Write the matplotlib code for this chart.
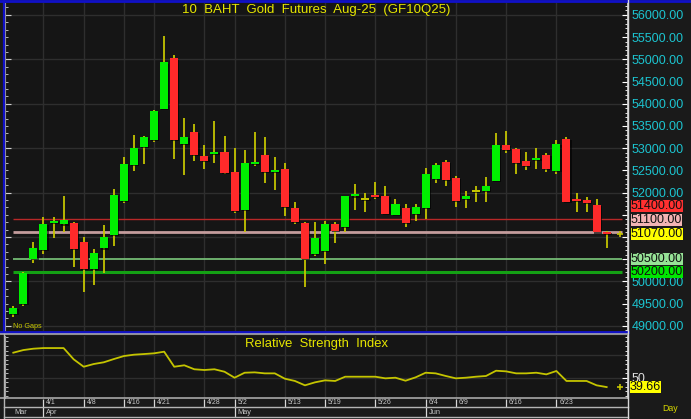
import matplotlib
matplotlib.use("Agg")
import matplotlib.pyplot as plt
from matplotlib.lines import Line2D
from matplotlib.ticker import MultipleLocator, FixedLocator, FuncFormatter, NullFormatter
import numpy as np

plt.rcParams['font.family'] = ['Liberation Sans', 'DejaVu Sans']

# trading days (Mar 27 - Jun 30, 2025)
dates = ["3/27", "3/28", "3/31", "4/1", "4/2", "4/3", "4/4", "4/8", "4/9", "4/10",
         "4/11", "4/16", "4/17", "4/18", "4/21", "4/22", "4/23", "4/24", "4/25", "4/28",
         "4/29", "4/30", "5/2", "5/6", "5/7", "5/8", "5/9", "5/13", "5/14", "5/15",
         "5/16", "5/19", "5/20", "5/21", "5/22", "5/23", "5/26", "5/27", "5/28", "5/29",
         "5/30", "6/4", "6/5", "6/6", "6/9", "6/10", "6/11", "6/12", "6/13", "6/16",
         "6/17", "6/18", "6/19", "6/20", "6/23", "6/24", "6/25", "6/26", "6/27", "6/30"]

opens = [49260, 49500, 50500, 50700, 51320, 51280, 51310, 50890, 50280, 50740,
         51040, 51810, 52620, 53030, 53180, 53880, 55020, 53100, 53370, 52830,
         52880, 52910, 52460, 51610, 52650, 52840, 52480, 52540, 51660, 51320,
         50610, 50680, 51290, 51220, 51925, 51850, 51930, 51930, 51490, 51660,
         51520, 51650, 52300, 52690, 52330, 51850, 52040, 52030, 52270, 53080,
         52980, 52720, 52750, 52840, 52490, 53200, 51840, 51830, 51710, 51090]
highs = [49440, 50200, 50890, 51450, 51450, 51920, 51330, 51000, 50720, 51260,
         52080, 52790, 53300, 53270, 53860, 55530, 55100, 53670, 53540, 53070,
         53600, 53270, 53000, 52960, 53370, 53260, 52790, 52660, 51790, 51340,
         51340, 51360, 51330, 51920, 52190, 52000, 52240, 52150, 51850, 51740,
         51740, 52550, 52660, 52730, 52370, 52040, 52150, 52350, 53330, 53380,
         53000, 52910, 53000, 52880, 53180, 53260, 52000, 51890, 51850, 51130]
lows = [49200, 49440, 50420, 50620, 50980, 51120, 50330, 49770, 49910, 50190,
        50800, 51770, 52490, 52650, 53140, 53870, 52760, 52390, 52720, 52520,
        52670, 52420, 51530, 51100, 52600, 52220, 52060, 51470, 51290, 49880,
        50580, 50380, 50860, 51100, 51610, 51560, 51850, 51510, 51490, 51220,
        51350, 51400, 52220, 52150, 51680, 51650, 51790, 51790, 52270, 52880,
        52420, 52500, 52540, 52460, 52420, 51790, 51570, 51560, 51100, 50740]
closes = [49410, 50190, 50740, 51290, 51360, 51380, 50720, 50270, 50640, 51000,
          51940, 52640, 53010, 53250, 53840, 54930, 53180, 53260, 52850, 52710,
          52920, 52450, 51590, 52660, 52690, 52470, 52490, 51680, 51340, 50500,
          50980, 51300, 51140, 51915, 51945, 51850, 51910, 51510, 51730, 51310,
          51670, 52420, 52610, 52280, 51810, 51915, 52040, 52150, 53080, 52960,
          52670, 52600, 52775, 52530, 53100, 51790, 51820, 51770, 51100, 51070]

rsi = [77.6, 80.5, 82.0, 82.7, 82.7, 82.7, 70.3, 62.1, 65.1, 67.0,
       70.6, 73.9, 75.4, 76.1, 76.9, 78.7, 62.1, 63.7, 59.3, 58.5,
       59.3, 56.6, 50.0, 55.5, 55.9, 54.8, 54.8, 48.9, 46.4, 41.6,
       44.9, 47.1, 46.4, 51.1, 51.1, 51.1, 51.1, 49.3, 50.0, 46.7,
       50.4, 55.5, 54.8, 51.9, 49.3, 50.0, 51.1, 51.9, 57.7, 57.0,
       54.8, 54.8, 55.5, 53.7, 57.4, 46.4, 46.4, 46.4, 41.6, 39.66]

levels = [51400, 51100, 50500, 50200]
level_line_colors = ['#b82828', '#c49c9c', '#7cc87c', '#14a014']
level_box_colors = ['#ff3030', '#f2b4b4', '#96e296', '#00e600']
level_widths = [1.0, 2.0, 1.2, 2.2]

tick_dates = ["4/1", "4/8", "4/16", "4/21", "4/28", "5/2", "5/13", "5/19",
              "5/26", "6/4", "6/9", "6/16", "6/23"]
months = ["Mar", "Apr", "May", "Jun"]
month_starts = ["3/27", "4/1", "5/2", "6/4"]

W, H = 691, 419
BG = '#1a1a1a'
PANEL = '#151515'
GRID = '#2e2e2e'
WICK = '#c4c400'
TICKLBL = '#1cc4d0'
FS = 9.0

fig = plt.figure(figsize=(W / 100, H / 100), dpi=100, facecolor=BG)


def box(l, t, r, b):
    return [l / W, 1 - b / H, (r - l) / W, (b - t) / H]


x = np.arange(len(dates))
xlim = (-0.776, 61.07)
n = len(dates)

# right-hand price boxes, stacked upward so they don't overlap
label_vals = sorted(levels + [closes[-1]])
box_for = dict(zip(levels, level_box_colors))
box_for[closes[-1]] = '#ffff00'
gap = 310
label_pos = []
prev = -1e9
for v in label_vals:
    prev = max(v, prev + gap)
    label_pos.append(prev)


def price_fmt(v, p):
    # tick labels that would sit under a price box are not shown
    if any(abs(v - q) < 150 for q in label_pos):
        return ""
    return f"{v:.2f}"


# ---- price panel ----
ax = fig.add_axes(box(5.5, 3, 627.5, 331), facecolor=PANEL)
ax.set_xlim(*xlim)
ax.set_ylim(48881, 56268)

tick_idx = [dates.index(d) for d in tick_dates]
for i in tick_idx:
    ax.axvline(i, color=GRID, lw=1, zorder=0)
ax.yaxis.set_major_locator(MultipleLocator(500))
ax.yaxis.set_minor_locator(MultipleLocator(100))
for v in np.arange(49000, 56001, 1000):
    ax.axhline(v, color=GRID, lw=1, zorder=0)

o = np.array(opens)
c = np.array(closes)
up = c > o
down = c < o
body_col = np.where(up, '#00f000', np.where(down, '#ff2a2a', WICK))
min_h = 45
body_h = np.maximum(np.abs(c - o), min_h)
body_bot = np.where(np.abs(c - o) < min_h, (o + c) / 2 - min_h / 2, np.minimum(o, c))

ax.vlines(x, lows, highs, colors=WICK, lw=1.3, zorder=2)
ax.bar(x + 0.12, body_h, bottom=body_bot - 25, width=0.8, color='black', alpha=0.6, zorder=2.2)
ax.bar(x, body_h, bottom=body_bot, width=0.8, color=body_col, zorder=3)

for v, lc, lw in zip(levels, level_line_colors, level_widths):
    ax.plot([0, n + 0.55], [v, v], color=lc, lw=lw, zorder=1.5, solid_capstyle='butt')

ax.plot(n + 0.3, closes[-1], marker='+', color=WICK, ms=5, mew=1.2, zorder=4, clip_on=False)

ax.yaxis.tick_right()
ax.yaxis.set_major_formatter(FuncFormatter(price_fmt))
ax.tick_params(axis='y', which='major', direction='in', length=4, width=0.8, color='white',
               labelcolor=TICKLBL, labelsize=FS, pad=3)
ax.tick_params(axis='y', which='minor', direction='in', length=2, width=0.6, color='white')
ax.tick_params(axis='x', bottom=False, labelbottom=False)
for s in ['top', 'left', 'bottom']:
    ax.spines[s].set_visible(False)
ax.spines['right'].set_color('#d8d8d8')
ax.spines['right'].set_linewidth(1.2)

sec = ax.secondary_yaxis('left')
sec.yaxis.set_major_locator(MultipleLocator(1000))
sec.yaxis.set_minor_locator(MultipleLocator(1000 / 6))
sec.yaxis.set_major_formatter(NullFormatter())
sec.tick_params(which='major', direction='in', length=4, width=0.8, color='#d0d0d0')
sec.tick_params(which='minor', direction='in', length=2.5, width=0.6, color='#d0d0d0')
sec.spines['left'].set_color('#9a9a9a')

for v, pos in zip(label_vals, label_pos):
    ax.annotate(f"{v:.2f}", xy=(1, pos), xycoords=('axes fraction', 'data'),
                xytext=(2.2, 0), textcoords='offset points', ha='left', va='center',
                fontsize=FS, color='#101010', annotation_clip=False, zorder=5,
                bbox=dict(boxstyle='square,pad=0.0', fc=box_for[v], ec='none'))

ax.text(0.5, 1 - 7 / 328, "10  BAHT  Gold  Futures  Aug-25  (GF10Q25)",
        transform=ax.transAxes, ha='center', va='center', color='#e6e600', fontsize=9.5)
ax.text(7.5 / 622, 5 / 328, "No Gaps", transform=ax.transAxes, ha='left', va='center',
        color='#c8c800', fontsize=5.2)

# ---- RSI panel ----
rax = fig.add_axes(box(5.5, 336, 627.5, 397.5), facecolor=PANEL)
rax.set_xlim(*xlim)
rax.set_ylim(28.17, 96.0)
for i in tick_idx:
    rax.axvline(i, color=GRID, lw=1, zorder=0)
for v in [50, 75]:
    rax.axhline(v, color=GRID, lw=1, zorder=0)
rax.plot(x, rsi, color=WICK, lw=1.3, zorder=3)
rax.plot(n + 0.3, rsi[-1], marker='+', color=WICK, ms=5, mew=1.2, zorder=4, clip_on=False)

rax.yaxis.tick_right()
rax.yaxis.set_major_locator(FixedLocator([50]))
rax.yaxis.set_minor_locator(MultipleLocator(5))
rax.tick_params(axis='y', which='major', direction='in', length=4, width=0.8, color='white',
                labelcolor='#e0e0e0', labelsize=FS, pad=3)
rax.tick_params(axis='y', which='minor', direction='in', length=2, width=0.6, color='white')
rax.tick_params(axis='x', bottom=False, labelbottom=False)
for s in ['top', 'left', 'bottom']:
    rax.spines[s].set_visible(False)
rax.spines['right'].set_color('#d8d8d8')
rax.spines['right'].set_linewidth(1.2)
rsec = rax.secondary_yaxis('left')
rsec.yaxis.set_major_locator(MultipleLocator(5))
rsec.yaxis.set_major_formatter(NullFormatter())
rsec.tick_params(direction='in', length=2.5, width=0.6, color='#d0d0d0')
rsec.spines['left'].set_color('#9a9a9a')

rax.annotate(f"{rsi[-1]:.2f}", xy=(1, rsi[-1]), xycoords=('axes fraction', 'data'),
             xytext=(1.5, 0), textcoords='offset points', ha='left', va='center',
             fontsize=FS, color='#101010', annotation_clip=False, zorder=5,
             bbox=dict(boxstyle='square,pad=0.0', fc='#ffff00', ec='none'))
rax.text(0.5, 1 - 8 / 61.5, "Relative  Strength  Index", transform=rax.transAxes,
         ha='center', va='center', color='#e6e600', fontsize=9.4)

# ---- date strip ----
dax = fig.add_axes(box(5.5, 398.5, 627.5, 417), facecolor=PANEL)
dax.set_xlim(*xlim)
dax.set_ylim(0, 1)
dax.axis('off')
split = 10 / 18.5
dax.vlines(tick_idx, split, 1, colors='#d8d8d8', lw=0.9)
for i, lbl in zip(tick_idx, tick_dates):
    dax.annotate(lbl, xy=(i, (1 + split) / 2), xytext=(2, 0), textcoords='offset points',
                 ha='left', va='center', color='#c8c8c8', fontsize=5)
month_idx = [dates.index(d) for d in month_starts]
dax.vlines(month_idx[1:], 0, split, colors='#d8d8d8', lw=0.9)
for i, lbl in zip(month_idx, months):
    dax.annotate(lbl, xy=(i, split / 2), xytext=(2 if i else 0.5, 0), textcoords='offset points',
                 ha='left', va='center', color='#c8c8c8', fontsize=5.3)

fig.text(670 / W, 1 - 408 / H, "Day", ha='center', va='center', color='#d8d800', fontsize=6.3)


# ---- frame lines ----
def hline(y, x0, x1, color, lw):
    fig.add_artist(Line2D([x0 / W, x1 / W], [1 - y / H, 1 - y / H], color=color, lw=lw))


def vline(xp, y0, y1, color, lw):
    fig.add_artist(Line2D([xp / W, xp / W], [1 - y0 / H, 1 - y1 / H], color=color, lw=lw))


hline(1.2, 0, W, '#1010c8', 2.0)
vline(3.6, 0, 332.5, '#1010c8', 1.6)
hline(331.6, 0, 628, '#1010c8', 2.0)
hline(334.3, 0, 628, '#b4b4b4', 1.1)
vline(4.0, 334.3, 419, '#b4b4b4', 1.0)
hline(398.2, 0, 628, '#b4b4b4', 1.1)
hline(406.8, 4, 628, '#b4b4b4', 1.0)
hline(417.2, 4, 628, '#b4b4b4', 1.0)
vline(627.6, 0, H, '#d8d8d8', 1.0)

fig.savefig('out.png', dpi=100, facecolor=BG)
